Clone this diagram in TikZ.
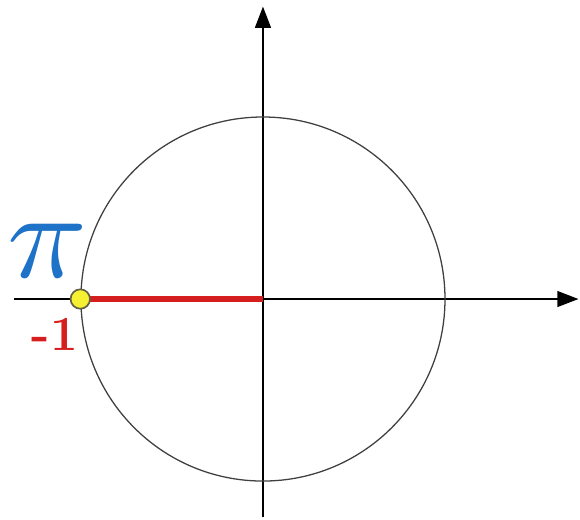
\documentclass[tikz,border=0pt]{standalone}
\usepackage{amsmath,amssymb}
\usepackage{xcolor}
\usepackage{graphicx}
\usepackage{tikz}
\usetikzlibrary{arrows.meta,positioning}

\definecolor{piblue}{RGB}{30,115,200}
\definecolor{lred}{RGB}{215,30,30}
\definecolor{dotyellow}{RGB}{245,240,50}

\begin{document}
\begin{tikzpicture}[
    axis/.style={-{Triangle[length=3.5mm,width=2.6mm]}, line width=0.95pt},
    unit/.style={circle, draw=black!75, line width=0.6pt},
    radius/.style={lred, line width=2.4pt},
    point/.style={circle, draw=black!70!yellow, line width=0.8pt, fill=dotyellow, minimum size=3.2mm, inner sep=0pt}
]
    \useasboundingbox (-4.334,-3.626) rectangle (5.225,4.928);

    % Axes
    \coordinate (O) at (0,0);
    \coordinate (xl) at (-4.10,0);
    \coordinate (xr) at (5.20,0);
    \coordinate (yb) at (0,-3.60);
    \coordinate (yt) at (0,4.82);
    \draw[axis] (xl) -- (xr);
    \draw[axis] (yb) -- (yt);

    % Unit circle
    \node[unit, minimum size=6cm, inner sep=0pt] (circ) at (O) {};

    % Angle pi
    \draw[radius] (circ.west) -- (O);
    \node[point] (P) at (circ.west) {};
    \node[text=piblue] (pi) at (-3.55,0.80) {\scalebox{6.2}[5.8]{$\pi$}};
    \node[text=lred, font=\bfseries\fontsize{23}{26}\selectfont] (m1) at (-3.43,-0.59) {\textbf{-1}};
\end{tikzpicture}
\end{document}
